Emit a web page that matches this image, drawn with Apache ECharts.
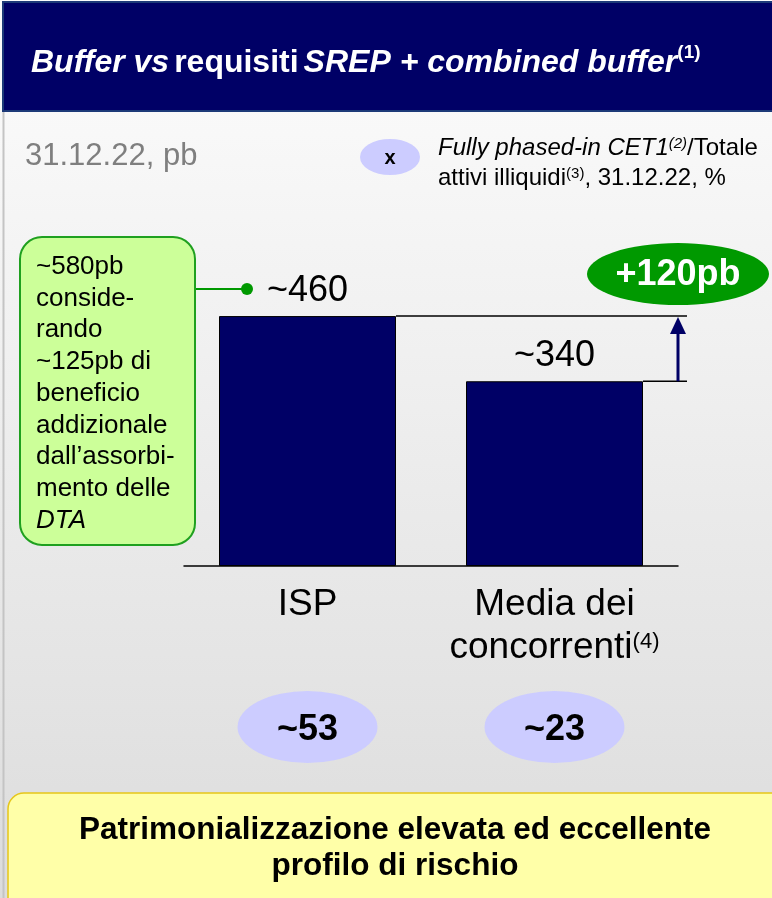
<!DOCTYPE html>
<html>
<head>
<meta charset="utf-8">
<script src="https://cdn.jsdelivr.net/npm/echarts@6/dist/echarts.min.js"></script>
<style>
  html, body { margin: 0; padding: 0; background: #ffffff; }
  #main { width: 772px; height: 898px; }
</style>
</head>
<body>
<div id="main"></div>
<script>
// --- dati ---
const categories = ['ISP', 'Media dei concorrenti'];
const categoryNotes = ['', '(4)'];
const bufferBps = [460, 340];        // buffer vs SREP + combined buffer, pb
const cet1RatioPct = [53, 23];       // CET1 / totale attivi illiquidi, %
const calloutLines = ['~580pb', 'conside-', 'rando', '~125pb di', 'beneficio',
  'addizionale', 'dall\u2019assorbi-', 'mento delle', '{i|DTA}'];

const FONT = 'Liberation Sans, Arial, sans-serif';
const NAVY = '#000066';

const chart = echarts.init(document.getElementById('main'), null, { renderer: 'canvas' });

function categoryLabel(value, idx) {
  if (value === 'Media dei concorrenti') {
    return 'Media dei\nconcorrenti{sup|' + categoryNotes[idx] + '}';
  }
  return value;
}

// staffa +120pb e freccia, calcolate dalle scale dell'asse
function renderGap(params, api) {
  const isp = api.value(1);
  const peer = api.value(2);
  const pIsp = api.coord([0, isp]);
  const pPeer = api.coord([1, peer]);
  const band = api.size([1, 0])[0];
  const halfBar = 88.5;
  const ax = pPeer[0] + band / 2;
  const yTop = pIsp[1];
  const yLow = pPeer[1];
  const diff = isp - peer;
  return {
    type: 'group',
    children: [
      { type: 'line', shape: { x1: pIsp[0] + halfBar, y1: yTop, x2: ax + 9, y2: yTop },
        style: { stroke: '#000', lineWidth: 1.5 } },
      { type: 'line', shape: { x1: pPeer[0] + halfBar, y1: yLow, x2: ax + 9, y2: yLow },
        style: { stroke: '#000', lineWidth: 1.5 } },
      { type: 'line', shape: { x1: ax, y1: yLow, x2: ax, y2: yTop + 14 },
        style: { stroke: NAVY, lineWidth: 3 } },
      { type: 'polygon', shape: { points: [[ax, yTop + 1], [ax - 8, yTop + 18], [ax + 8, yTop + 18]] },
        style: { fill: NAVY } },
      { type: 'circle', x: ax, y: yTop - 42, scaleX: 91 / 31, shape: { cx: 0, cy: 0, r: 31 },
        style: { fill: '#009900' } },
      { type: 'text', x: ax, y: yTop - 41,
        style: { text: '+' + diff + 'pb', fill: '#fff', font: 'bold 36px ' + FONT,
          align: 'center', verticalAlign: 'middle' } }
    ]
  };
}

const option = {
  animation: false,
  backgroundColor: '#ffffff',
  title: {
    text: '{bi|Buffer vs} {b|requisiti} {bi|SREP + combined buffer}{sup|(1)}',
    left: 26, top: 36,
    textStyle: {
      rich: {
        bi: { color: '#fff', fontSize: 32, fontWeight: 'bold', fontStyle: 'italic', fontFamily: FONT, lineHeight: 38, verticalAlign: 'bottom' },
        b: { color: '#fff', fontSize: 32, fontWeight: 'bold', fontFamily: FONT, lineHeight: 38, verticalAlign: 'bottom' },
        sup: { color: '#fff', fontSize: 19, fontWeight: 'bold', fontFamily: FONT, lineHeight: 22, verticalAlign: 'top', padding: [2, 0, 0, 0] }
      }
    }
  },
  graphic: [
    { type: 'rect', z: -10, shape: { x: 0, y: 0, width: 772, height: 898 },
      style: { fill: new echarts.graphic.LinearGradient(0, 0, 0, 1, [
        { offset: 0, color: '#fbfbfb' }, { offset: 0.15, color: '#f8f8f8' }, { offset: 1, color: '#dcdcdc' }]) } },
    { type: 'line', z: -9, shape: { x1: 3.5, y1: 110, x2: 3.5, y2: 898 }, style: { stroke: '#c4c4c4', lineWidth: 2 } },
    { type: 'rect', z: -8, shape: { x: 3, y: 2, width: 772, height: 109 },
      style: { fill: NAVY, stroke: '#1d3a78', lineWidth: 2 } },
    { type: 'text', x: 25, y: 156, z: 5,
      style: { text: '31.12.22, pb', font: '31px ' + FONT, fill: '#7f7f7f', verticalAlign: 'middle' } },
    { type: 'circle', x: 390, y: 157, z: 5, scaleX: 30 / 18, shape: { cx: 0, cy: 0, r: 18 },
      style: { fill: '#ccccff' } },
    { type: 'text', x: 390, y: 158, z: 6,
      style: { text: 'x', font: 'bold 20px ' + FONT, fill: '#000', align: 'center', verticalAlign: 'middle' } },
    { type: 'text', x: 438, y: 130, z: 5,
      style: {
        text: '{i|Fully phased-in CET1}{is|(2)}{n|/Totale}\n{n|attivi illiquidi}{s|(3)}{n|, 31.12.22, %}',
        rich: {
          i: { fontSize: 24, fontStyle: 'italic', fontFamily: FONT, fill: '#000', lineHeight: 30, verticalAlign: 'bottom' },
          n: { fontSize: 24, fontFamily: FONT, fill: '#000', lineHeight: 30, verticalAlign: 'bottom' },
          is: { fontSize: 15, fontStyle: 'italic', fontFamily: FONT, fill: '#000', lineHeight: 22, verticalAlign: 'top', padding: [6, 0, 0, 0] },
          s: { fontSize: 15, fontFamily: FONT, fill: '#000', lineHeight: 22, verticalAlign: 'top', padding: [6, 0, 0, 0] }
        }
      } },
    // riquadro verde DTA
    { type: 'line', z: 5, shape: { x1: 195, y1: 289, x2: 247, y2: 289 }, style: { stroke: '#009900', lineWidth: 2 } },
    { type: 'circle', z: 5, shape: { cx: 247, cy: 289, r: 6 }, style: { fill: '#009900' } },
    { type: 'rect', z: 5, shape: { x: 20, y: 237, width: 175, height: 308, r: 22 },
      style: { fill: '#ccff99', stroke: '#1fa01f', lineWidth: 2 } },
    { type: 'text', x: 36, y: 251, z: 6,
      style: {
        text: calloutLines.map(function (l) { return l.indexOf('{') === 0 ? l : '{n|' + l + '}'; }).join('\n'),
        rich: {
          n: { fontSize: 26, fontFamily: FONT, fill: '#000', lineHeight: 31.7 },
          i: { fontSize: 26, fontFamily: FONT, fontStyle: 'italic', fill: '#000', lineHeight: 31.7 }
        }
      } },
    // riquadro giallo conclusivo
    { type: 'rect', z: 5, shape: { x: 8, y: 793, width: 790, height: 130, r: 16 },
      style: { fill: '#ffffa8', stroke: '#e6c619', lineWidth: 1.5 } },
    { type: 'text', x: 395, y: 848, z: 6,
      style: { text: 'Patrimonializzazione elevata ed eccellente\nprofilo di rischio',
        font: 'bold 31.5px ' + FONT, fill: '#000', align: 'center', verticalAlign: 'middle', lineHeight: 36 } }
  ],
  grid: [
    { left: 184, right: 94, top: 240, bottom: 332 },
    { left: 184, right: 94, top: 691, height: 72 }
  ],
  xAxis: [
    {
      type: 'category', gridIndex: 0, data: categories,
      axisLine: { lineStyle: { color: '#000', width: 1.5 } },
      axisTick: { show: false },
      axisLabel: {
        margin: 17, interval: 0, color: '#000', fontSize: 37, fontFamily: FONT, lineHeight: 43,
        formatter: categoryLabel,
        rich: { sup: { fontSize: 22, fontFamily: FONT, color: '#000', lineHeight: 43, verticalAlign: 'top', padding: [5, 0, 0, 0] } }
      }
    },
    { type: 'category', gridIndex: 1, data: categories, show: false }
  ],
  yAxis: [
    { type: 'value', gridIndex: 0, min: 0, max: 600, show: false },
    { type: 'value', gridIndex: 1, min: -1, max: 1, show: false }
  ],
  series: [
    {
      type: 'bar', xAxisIndex: 0, yAxisIndex: 0,
      data: bufferBps, barWidth: 177,
      itemStyle: { color: NAVY, borderColor: '#000', borderWidth: 1 },
      label: { show: true, position: 'top', distance: 7, formatter: '~{c}',
        color: '#000', fontSize: 36, fontFamily: FONT }
    },
    {
      type: 'custom', xAxisIndex: 0, yAxisIndex: 0, clip: false, z: 3,
      data: [[0, bufferBps[0], bufferBps[1]]],
      renderItem: renderGap
    },
    {
      type: 'scatter', xAxisIndex: 1, yAxisIndex: 1,
      data: cet1RatioPct.map(function (v, i) { return [i, 0, v]; }),
      symbol: 'circle', symbolSize: [140, 72],
      itemStyle: { color: '#ccccff', opacity: 1 },
      label: { show: true, position: 'inside', offset: [0, 3], formatter: function (p) { return '~' + p.value[2]; },
        color: '#000', fontSize: 36, fontWeight: 'bold', fontFamily: FONT }
    }
  ]
};

chart.setOption(option);
</script>
</body>
</html>
